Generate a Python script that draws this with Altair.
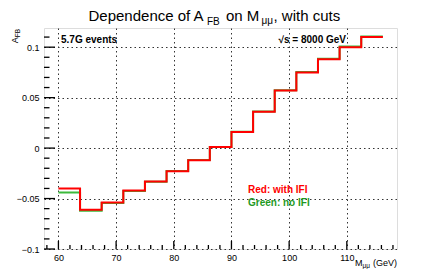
import altair as alt
import pandas as pd

# ---- data ----
bin_edges = [60.0, 63.75, 67.5, 71.25, 75.0, 78.75, 82.5, 86.25, 90.0,
             93.75, 97.5, 101.25, 105.0, 108.75, 112.5, 116.25]
afb_red = [-0.040, -0.061, -0.054, -0.042, -0.033, -0.023, -0.012, 0.001,
           0.016, 0.036, 0.057, 0.075, 0.088, 0.100, 0.110]
afb_green = [-0.044, -0.062, -0.0545, -0.0425, -0.0333, -0.0228, -0.0118, 0.0012,
             0.0163, 0.0363, 0.0573, 0.0755, 0.0885, 0.1007, 0.1107]

x_major = [60, 70, 80, 90, 100, 110]
y_major = [-0.1, -0.05, 0.0, 0.05, 0.1]
x_minor = [v for v in range(58, 119, 2) if v % 10 != 0]
y_minor = [round(-0.1 + 0.01 * i, 2) for i in range(0, 22) if i % 5 != 0]

X_DOMAIN = [57.5, 118.7]
Y_DOMAIN = [-0.1, 0.119]
W, H = 353, 221
FONT = "Liberation Sans"


def step_frame(values):
    rows = []
    for i, e in enumerate(bin_edges):
        rows.append({"m": e, "a": values[min(i, len(values) - 1)]})
    return pd.DataFrame(rows)


xs = alt.Scale(domain=X_DOMAIN, nice=False, zero=False)
ys = alt.Scale(domain=Y_DOMAIN, nice=False, zero=False)

# grid + labels via axes (no ticks: ticks drawn inward below)
base_axes = alt.Chart(pd.DataFrame({"m": [60.0], "a": [0.0]})).mark_point(opacity=0).encode(
    x=alt.X("m:Q", scale=xs, axis=alt.Axis(values=x_major, format="d", title=None, ticks=False,
                                            domain=False, grid=True, gridDash=[1.5, 3],
                                            gridColor="#333", gridWidth=1, labelPadding=4,
                                            labelFontSize=9, labelFont=FONT, labelColor="#000")),
    y=alt.Y("a:Q", scale=ys, axis=alt.Axis(values=y_major, format="~g", title=None, ticks=False,
                                            domain=False, grid=True, gridDash=[1.5, 3],
                                            gridColor="#333", gridWidth=1, labelPadding=5,
                                            labelFontSize=9, labelFont=FONT, labelColor="#000")),
)

green_line = alt.Chart(step_frame(afb_green)).mark_line(
    interpolate="step-after", color="#3dba3d", strokeWidth=2).encode(
    x=alt.X("m:Q", scale=xs), y=alt.Y("a:Q", scale=ys))
red_line = alt.Chart(step_frame(afb_red)).mark_line(
    interpolate="step-after", color="#ff0000", strokeWidth=2).encode(
    x=alt.X("m:Q", scale=xs), y=alt.Y("a:Q", scale=ys))

# inward ticks
y_maj_t = alt.Chart(pd.DataFrame({"a": y_major})).mark_rule(color="#000", strokeWidth=1.3).encode(
    y=alt.Y("a:Q", scale=ys), x=alt.value(0), x2=alt.value(11))
y_min_t = alt.Chart(pd.DataFrame({"a": y_minor})).mark_rule(color="#000", strokeWidth=1.3).encode(
    y=alt.Y("a:Q", scale=ys), x=alt.value(0), x2=alt.value(5.5))
x_maj_t = alt.Chart(pd.DataFrame({"m": x_major})).mark_rule(color="#000", strokeWidth=1.3).encode(
    x=alt.X("m:Q", scale=xs), y=alt.value(H), y2=alt.value(H - 8))
x_min_t = alt.Chart(pd.DataFrame({"m": x_minor})).mark_rule(color="#000", strokeWidth=1.3).encode(
    x=alt.X("m:Q", scale=xs), y=alt.value(H), y2=alt.value(H - 4))


def txt(s, x, y, size, color="#000", weight="normal", align="left", angle=0):
    return alt.Chart(pd.DataFrame({"t": [s]})).mark_text(
        font=FONT, fontSize=size, fontWeight=weight, color=color, align=align,
        baseline="alphabetic", angle=angle).encode(
        x=alt.value(x), y=alt.value(y), text="t:N")


TB = -7.4  # title baseline relative to plot top
texts = [
    # title
    txt("Dependence of A", 44.5, TB, 15),
    txt("FB", 163, TB + 4.4, 10),
    txt("on M", 182, TB, 15),
    txt("μμ", 217.5, TB + 3.4, 10),
    txt(", with cuts", 229.5, TB, 15),
    # annotations
    txt("5.7G events", 17, 15, 10, weight="bold"),
    txt("√s = 8000 GeV", 302, 15, 10, weight="bold", align="right"),
    txt("Red: with IFI", 204, 165, 10, color="#ff0000", weight="bold"),
    txt("Green: no IFI", 204, 178, 10, color="#1f9a1f", weight="bold"),
    # x axis title
    txt("(GeV)", 353, 238, 9, align="right"),
    txt("μμ", 326, 240, 6.5, align="right"),
    txt("M", 318.5, 238, 9, align="right"),
    # y axis title (rotated)
    txt("FB", -24, 1, 6.5, align="right", angle=270),
    txt("A", -26, 9.3, 9, align="right", angle=270),
]

chart = alt.layer(base_axes, green_line, red_line, y_maj_t, y_min_t, x_maj_t, x_min_t, *texts).properties(
    width=W, height=H,
    autosize=alt.AutoSizeParams(type="none"),
    padding={"left": 36, "top": 20, "right": 30, "bottom": 20},
).configure_view(stroke="#000", strokeWidth=1.5).configure(background="white")

chart.save("out.html", embed_options={"renderer": "svg", "actions": False})
